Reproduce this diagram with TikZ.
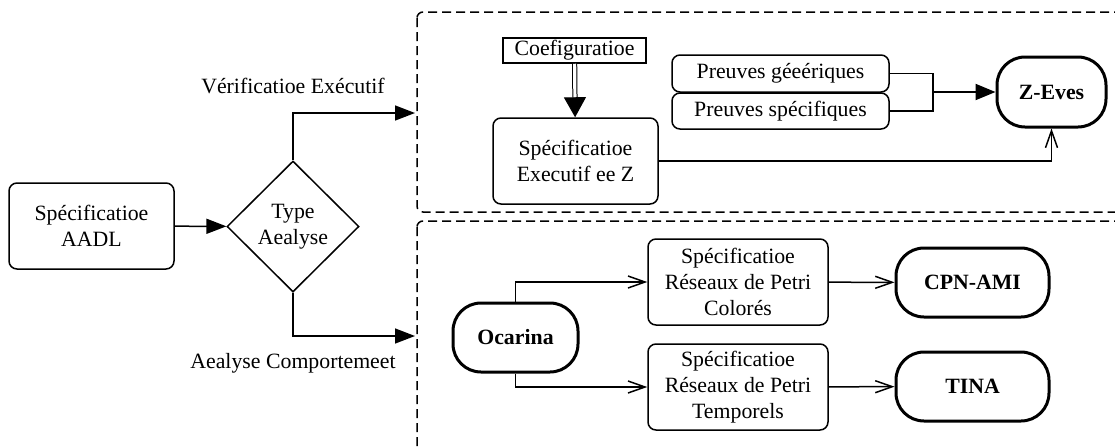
\documentclass[tikz,border=0pt]{standalone}
\usepackage{fontspec}
\setmainfont{Liberation Serif}
\usetikzlibrary{shapes.geometric, arrows.meta}

\begin{document}
\begin{tikzpicture}[x=0.5pt, y=-0.5pt, line width=0.75pt,
    font=\fontsize{10.9}{13}\selectfont,
    box/.style={draw, rounded corners=4pt, inner sep=0pt, align=center},
    tool/.style={draw, line width=1.5pt, rounded corners=14pt, inner sep=0pt, font=\fontsize{10.9}{13}\selectfont\bfseries},
    frame/.style={dash pattern=on 4.5pt off 2.5pt, rounded corners=3pt},
    fleche/.style={-{Triangle[length=10pt, width=7.5pt]}},
    ouvert/.style={-{Straight Barb[length=8.5pt, width=6pt]}}]

    \path[use as bounding box, clip] (0,0) rectangle (1115,446);

    % cadres en pointilles
    \draw[frame] (417,12) rectangle (1130,212);
    \draw[frame] (417,221) rectangle (1130,470);

    % partie gauche
    \node[box, minimum width=82.5pt, minimum height=43pt] (aadl) at (91.5,226) {Spécificatioe\\AADL};
    \node[draw, diamond, inner sep=0pt, minimum width=66pt, minimum height=65.5pt, align=center] (type) at (293,226.5) {Type\\Aealyse};
    \node (lblV) at (293,86) {Vérificatioe Exécutif};
    \node (lblA) at (293,363) {Aealyse Comportemeet};
    \coordinate (inV) at (415,113);
    \coordinate (inA) at (415,336);

    \draw[fleche] (aadl) -- (type);
    \draw[fleche] (type.north) |- (inV);
    \draw[fleche] (type.south) |- (inA);

    % verification Z
    \node[draw, inner sep=0pt, minimum width=71.5pt, minimum height=12.5pt] (coef) at (574.5,50.5) {Coefiguratioe};
    \node[box, minimum width=82.5pt, minimum height=43pt] (specz) at (575.5,161) {Spécificatioe\\Executif ee Z};
    \node[box, minimum width=108.5pt, minimum height=18.5pt] (pgen) at (780.5,73.5) {Preuves géeériques};
    \node[box, minimum width=108.5pt, minimum height=18pt] (pspec) at (780.5,111) {Preuves spécifiques};
    \node[tool, minimum width=54.5pt, minimum height=35pt] (zeves) at (1051.5,92) {Z-Eves};
    \coordinate (junc) at (933,92);

    \draw[double, double distance=1.6pt, line width=0.5pt, -{Triangle[length=10pt, width=11pt]}] (coef) -- (specz);
    \draw (pgen.east) -| (junc) |- (pspec.east);
    \draw[line width=1pt, -{Triangle[length=10pt, width=8pt]}] (junc) -- (zeves.west);
    \draw[ouvert] (specz.east) -| (zeves.south);

    % reseaux de Petri
    \node[tool, minimum width=62.5pt, minimum height=34.5pt] (ocarina) at (515.5,337.5) {Ocarina};
    \node[box, minimum width=90pt, minimum height=43pt] (colores) at (738,282) {Spécificatioe\\Réseaux de Petri\\Colorés};
    \node[box, minimum width=90pt, minimum height=43pt] (temporels) at (738,387) {Spécificatioe\\Réseaux de Petri\\Temporels};
    \node[tool, minimum width=76.5pt, minimum height=34.5pt] (cpn) at (972.5,282.5) {CPN-AMI};
    \node[tool, minimum width=76.5pt, minimum height=34.5pt] (tina) at (972.5,386.5) {TINA};

    \draw[ouvert] (ocarina.north) |- (colores.west);
    \draw[ouvert] (ocarina.south) |- (temporels.west);
    \draw[ouvert] (colores) -- (cpn);
    \draw[ouvert] (temporels) -- (tina);
\end{tikzpicture}
\end{document}
